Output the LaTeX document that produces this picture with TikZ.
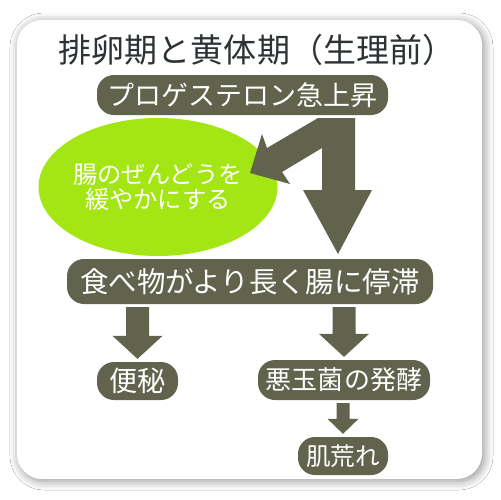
\documentclass[tikz,border=0pt]{standalone}
\usepackage{fontspec}
\setmainfont{Noto Sans CJK JP}
\usepackage{tikz}
\usetikzlibrary{shapes.geometric, shadows.blur, calc}
\definecolor{pillgray}{RGB}{97,99,77}
\definecolor{limegreen}{RGB}{163,230,20}
\definecolor{titlegray}{RGB}{45,50,52}
\newlength{\pxu}
\setlength{\pxu}{0.05cm}
\tikzset{
  pill/.style={rectangle, rounded corners=0.85cm, fill=pillgray, text=white,
               inner sep=0pt, align=center},
  blob/.style={ellipse, fill=limegreen, text=white, inner sep=0pt, align=center},
  arrfill/.style={fill=pillgray},
  card/.style={fill=white, rounded corners=1.25cm,
               blur shadow={shadow xshift=2*\pxu, shadow yshift=-2*\pxu,
                            shadow blur radius=9*\pxu, shadow opacity=45}},
}
\newcommand{\fsz}[1]{\fontsize{#1}{#1}\selectfont}
% block arrow pointing down from node #1 to node #2
\newcommand{\dnarr}[5]{\fill[arrfill] let \p1=(#2.north), \p2=(#1.south) in
  (\x1-#3*\pxu,\y2-3*\pxu) -- (\x1+#3*\pxu,\y2-3*\pxu)
  -- (\x1+#3*\pxu,\y1+3*\pxu+#5*\pxu) -- (\x1+#4*\pxu,\y1+3*\pxu+#5*\pxu)
  -- (\x1,\y1+3*\pxu) -- (\x1-#4*\pxu,\y1+3*\pxu+#5*\pxu)
  -- (\x1-#3*\pxu,\y1+3*\pxu+#5*\pxu) -- cycle;}

\begin{document}
\begin{tikzpicture}[x=0.05cm, y=-0.05cm]
\useasboundingbox (0,0) rectangle (500,500);
\fill[white] (0,0) rectangle (500,500);
\path[card] (17,20) rectangle (482,479);
\node[text=titlegray, font=\fsz{47}] (title) at (257,50) {排卵期と黄体期（生理前）};
\node[pill, minimum width=291*\pxu, minimum height=40*\pxu, font=\fsz{38.4}] (prog) at (242.5,95) {プロゲステロン急上昇};
\node[blob, minimum width=184*\pxu, minimum height=138*\pxu, font=\fontsize{34.5}{35.5}\selectfont] (gut) at (158,187) {腸のぜんどうを\\緩やかにする};
\node[pill, minimum width=366*\pxu, minimum height=45*\pxu, font=\fsz{40.5}] (stay) at (250,281.5) {食べ物がより長く腸に停滞};
\node[pill, minimum width=81*\pxu, minimum height=38*\pxu, font=\fsz{40}] (constip) at (137.5,381) {便秘};
\node[pill, minimum width=172*\pxu, minimum height=40*\pxu, font=\fsz{37}] (ferment) at (344,380) {悪玉菌の発酵};
\node[pill, minimum width=90*\pxu, minimum height=38*\pxu, font=\fsz{35}] (skin) at (343,456) {肌荒れ};
% forked arrow under prog
\fill[arrfill] (318,118) -- (355,118) -- (355,190) -- (372,190) -- (338,254) -- (303,190)
  -- (322,190) -- (322,148) -- (282,172) -- (290,184) -- (250,173) -- (262,134)
  -- (267,148) -- cycle;
\dnarr{stay}{constip}{11.5}{25}{23}
\dnarr{stay}{ferment}{11.5}{25}{23}
\dnarr{ferment}{skin}{6.5}{15.5}{15}
\end{tikzpicture}
\end{document}
